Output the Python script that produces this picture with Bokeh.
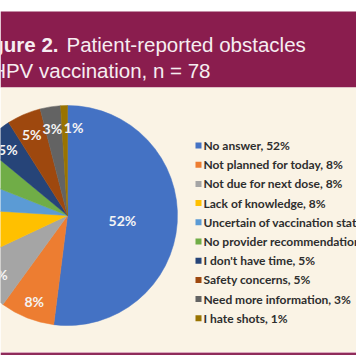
import numpy as np
from bokeh.plotting import figure
from bokeh.models import ColumnDataSource, Range1d, BoxAnnotation
from bokeh.core.properties import value
from bokeh.embed import file_html
from bokeh.resources import INLINE

# ---- data ----
categories = ["No answer", "Not planned for today", "Not due for next dose", "Lack of knowledge",
              "Uncertain of vaccination status", "No provider recommendation", "I don't have time",
              "Safety concerns", "Need more information", "I hate shots"]
percents = [52, 8, 8, 8, 5, 5, 5, 5, 3, 1]
colors = ["#4472C4", "#ED7D31", "#A5A5A5", "#FFC000", "#5B9BD5", "#70AD47",
          "#264478", "#9E480E", "#636363", "#997300"]
title_bold = "Figure 2."
title_line1 = "Patient-reported obstacles"
title_line2 = "to HPV vaccination, n = 78"

W, H = 356, 364
PURPLE = "#8a1d4e"
CREAM = "#faf3e5"
TITLE_COL = "#f6edf1"


def Y(ypx):
    return H - ypx


p = figure(width=W, height=H, x_range=Range1d(0, W), y_range=Range1d(0, H),
           output_backend="svg", toolbar_location=None, min_border=0)
p.axis.visible = False
p.grid.visible = False
p.outline_line_color = None
p.background_fill_color = "white"
p.border_fill_color = "white"

# bands
p.add_layout(BoxAnnotation(left=0, right=W, top=Y(11), bottom=Y(87), fill_color=PURPLE,
                           fill_alpha=1, line_color=None, level="underlay"))
p.add_layout(BoxAnnotation(left=0, right=W, top=Y(87), bottom=Y(352), fill_color=CREAM,
                           fill_alpha=1, line_color=None, level="underlay"))
p.add_layout(BoxAnnotation(left=0, right=W, top=Y(351.5), bottom=Y(352.5), fill_color="#d9a7bd",
                           fill_alpha=1, line_color=None, level="underlay"))
p.add_layout(BoxAnnotation(left=0, right=W, top=Y(352.5), bottom=Y(354.5), fill_color="#8f2c5a",
                           fill_alpha=1, line_color=None, level="underlay"))

# title
p.text(x=[58], y=[Y(44)], text=[title_bold], text_align="right", text_baseline="alphabetic",
       text_font=value("Liberation Sans"), text_font_style="bold", text_font_size="20.5px",
       text_color=TITLE_COL)
p.text(x=[66], y=[Y(44)], text=[title_line1], text_align="left", text_baseline="alphabetic",
       text_font=value("Liberation Sans"), text_font_size="20.5px", text_color=TITLE_COL)
p.text(x=[210], y=[Y(70)], text=[title_line2], text_align="right", text_baseline="alphabetic",
       text_font=value("Liberation Sans"), text_font_size="20.5px", text_color=TITLE_COL)

# pie
cx, cy, R = 67, Y(215), 110
frac = np.array(percents, dtype=float) / sum(percents)
cum = np.cumsum(frac)
start = np.concatenate([[0.0], cum[:-1]])
start_angle = np.pi / 2 - 2 * np.pi * start
end_angle = np.pi / 2 - 2 * np.pi * cum
mid = np.pi / 2 - np.pi * (start + cum)
rlab = np.where(frac > 0.3, 0.5, 0.82) * R
nudge = [0, 0, 0, 0, 0, 0, 0, 0, -1, 9]

src = ColumnDataSource(dict(
    start=start_angle, end=end_angle, color=colors,
    lx=cx + rlab * np.cos(mid), ly=cy + rlab * np.sin(mid),
    lab=[f"{v}%" for v in percents], nudge=nudge,
))
p.wedge(x=cx, y=cy, radius=R, start_angle="start", end_angle="end", direction="clock",
        fill_color="color", line_color="color", line_width=0.5, source=src)
p.text(x="lx", y="ly", text="lab", x_offset="nudge", y_offset=2, text_align="center",
       text_baseline="middle", text_font=value("Lato"), text_font_style="bold",
       text_font_size="14px", text_color="#f4f4f4", source=src)

# legend
rows = np.arange(len(categories))
ly = Y(145 + rows * 19.2)
leg = ColumnDataSource(dict(
    y=ly, color=colors, txt=[f"{c}, {v}%" for c, v in zip(categories, percents)],
))
p.rect(x=198, y="y", width=6, height=6, fill_color="color", line_color=None, source=leg)
p.text(x=203, y="y", text="txt", text_align="left", text_baseline="middle",
       text_font=value("Lato"), text_font_style="bold", text_font_size="12px",
       text_color="#2e2e2e", source=leg)

open("out.html", "w").write(file_html(p, INLINE))
